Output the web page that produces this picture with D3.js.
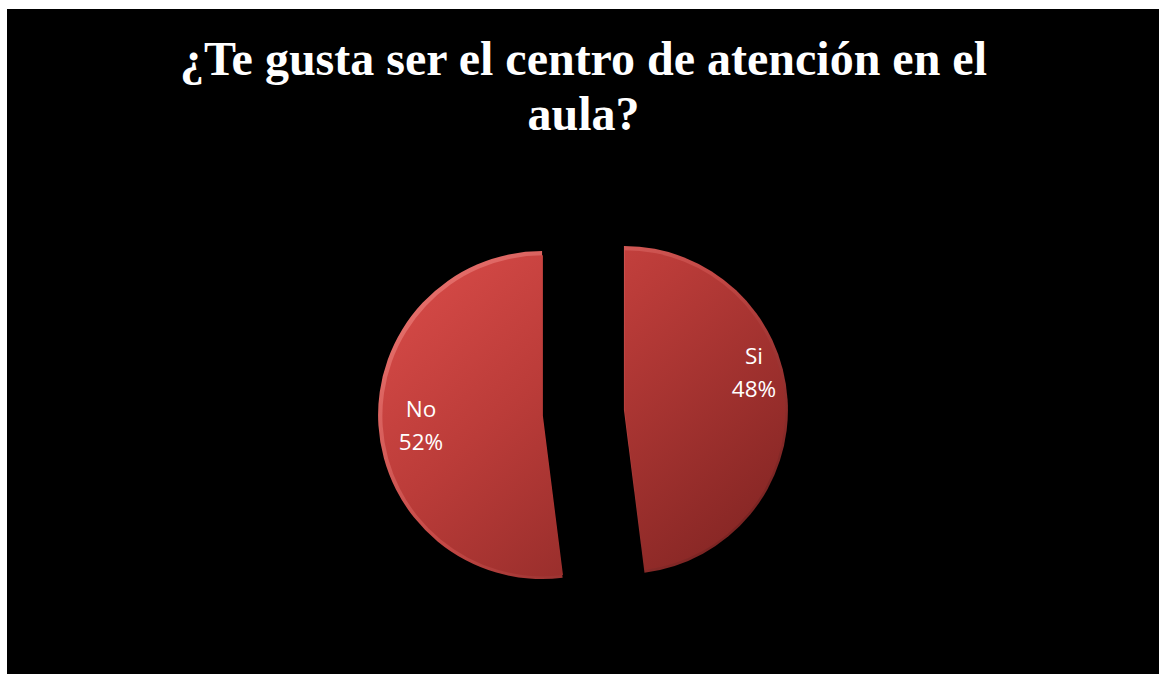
<!DOCTYPE html>
<html>
<head>
<meta charset="utf-8">
<script src="https://cdn.jsdelivr.net/npm/d3@7"></script>
<style>
  html, body { margin: 0; padding: 0; background: #ffffff; }
  svg { display: block; }
</style>
</head>
<body>
<svg id="chart" width="1159" height="674"></svg>
<script>
// ---- data ----
const titleLines = ["¿Te gusta ser el centro de atención en el", "aula?"];
const categories = ["Si", "No"];
const values = [48, 52];
const percentLabels = ["48%", "52%"];

// ---- layout ----
const W = 1159, H = 674;
const svg = d3.select("#chart");

svg.append("rect").attr("x", 7).attr("y", 9).attr("width", W - 7).attr("height", H - 9).attr("fill", "#000000");

const defs = svg.append("defs");
const cx = 583, cy = 412.5, R = 164, explode = 41;

// title
svg.append("g").selectAll("text").data(titleLines).join("text")
  .attr("x", 583.5)
  .attr("y", (d, i) => 75 + i * 55)
  .attr("text-anchor", "middle")
  .attr("font-family", "'Liberation Serif', 'Times New Roman', serif")
  .attr("font-weight", "bold")
  .attr("font-size", 48)
  .attr("fill", "#ffffff")
  .text(d => d);

// pie
const data = categories.map((c, i) => ({ cat: c, value: values[i], pct: percentLabels[i] }));
const pie = d3.pie().value(d => d.value).sort(null);
const arcs = pie(data);
const arc = d3.arc().innerRadius(0).outerRadius(R);
const innerArc = d3.arc().innerRadius(0).outerRadius(R - 3.5);
const labelNudge = { "Si": [9, -31], "No": [0, 1] };

function offsetOf(d) {
  const a = (d.startAngle + d.endAngle) / 2;
  return [explode * Math.sin(a), -explode * Math.cos(a)];
}

// per-slice gradients expressed in the pie's global frame
arcs.forEach((d, i) => {
  const [ox, oy] = offsetOf(d);
  const fill = defs.append("linearGradient").attr("id", "fill" + i)
    .attr("gradientUnits", "userSpaceOnUse")
    .attr("x1", -R - ox).attr("y1", -R - oy).attr("x2", R * 0.8 - ox).attr("y2", R - oy);
  fill.append("stop").attr("offset", "0%").attr("stop-color", "#d84b48");
  fill.append("stop").attr("offset", "40%").attr("stop-color", "#bb3c39");
  fill.append("stop").attr("offset", "100%").attr("stop-color", "#852624");
  const edge = defs.append("linearGradient").attr("id", "edge" + i)
    .attr("gradientUnits", "userSpaceOnUse")
    .attr("x1", -R - ox).attr("y1", -R - oy).attr("x2", R - ox).attr("y2", R - oy);
  edge.append("stop").attr("offset", "0%").attr("stop-color", "#ea7470");
  edge.append("stop").attr("offset", "50%").attr("stop-color", "#c24744");
  edge.append("stop").attr("offset", "100%").attr("stop-color", "#6a1c1b");
});

const g = svg.append("g").attr("transform", `translate(${cx},${cy})`);
const slice = g.selectAll("g.slice").data(arcs).join("g")
  .attr("class", "slice")
  .attr("transform", d => `translate(${offsetOf(d)[0]},${offsetOf(d)[1]})`);

slice.append("path")
  .attr("d", arc)
  .attr("fill", (d, i) => `url(#edge${i})`);
slice.append("path")
  .attr("d", innerArc)
  .attr("transform", "translate(0.8,0.8)")
  .attr("fill", (d, i) => `url(#fill${i})`);

slice.append("text")
  .attr("text-anchor", "middle")
  .attr("font-family", "'Open Sans', 'Noto Sans', sans-serif")
  .attr("font-size", 22.5)
  .attr("fill", "#ffffff")
  .each(function(d) {
    const [x, y] = arc.centroid(d).map(v => v * 1.48);
    const [nx, ny] = labelNudge[d.data.cat];
    const t = d3.select(this);
    t.append("tspan").attr("x", x + nx).attr("y", y + ny - 7).text(d.data.cat);
    t.append("tspan").attr("x", x + nx).attr("y", y + ny + 26).text(d.data.pct);
  });
</script>
</body>
</html>
